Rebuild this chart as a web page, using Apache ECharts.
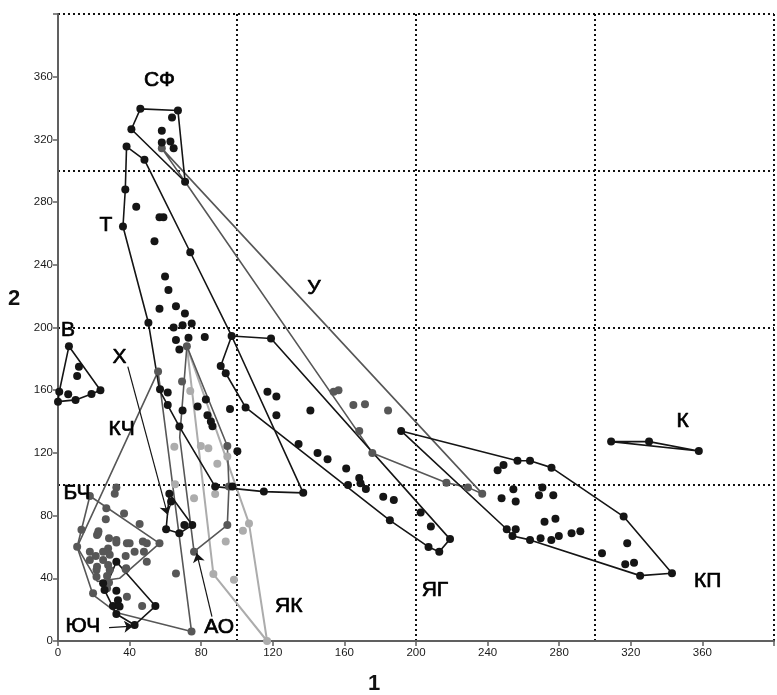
<!DOCTYPE html>
<html><head><meta charset="utf-8">
<script src="https://cdn.jsdelivr.net/npm/echarts@6/dist/echarts.min.js"></script>
<style>html,body{margin:0;padding:0;background:#fff}#c{width:777px;height:695px}</style>
</head><body><div id="c"></div>
<script>
// ---- axis settings ----
const axisMin = 0, axisMax = 400, tickStep = 40, gridStep = 100;
const hiddenTickLabels = [400];

// ---- hull polygons (data units: [axis 1, axis 2]) ----
const hullSF = [[41,326.5],[46,339.5],[67,338.4],[71,293],[41,326.5]];
const hullT = [[38.3,315.4],[48.3,307],[73.9,248],[97,194.6],[137,94.5],[115,95.3],[87.8,98.5],[67.8,136.8],[56.7,160],[50.5,203],[36.3,264.4],[37.6,288],[38.3,315.4]];
const hullYaG = [[97,194.6],[119,193],[219,65],[213,57],[207,60],[185.4,77],[104.8,149],[93.7,170.8],[90.9,175.5],[97,194.6]];
const hullU = [[58,314.3],[237,94],[229,98],[217,101],[175.6,120],[71,293],[58,314.3]];
const hullV = [[6.1,188],[23.7,160],[18.7,157.6],[9.8,153.8],[0,152.7],[0.7,159],[6.1,188]];
const hullKh = [[62.2,94],[75,74],[67.8,68.7],[60.4,71.3],[62.2,94]];
const hullYuCh = [[32.6,50.6],[54.4,22.3],[42.8,10.2],[32.6,17.2],[26,32.5],[32.6,50.6]];
const hullKCh = [[55.9,172],[74.6,6],[33,18],[19.6,29.4],[10.7,60],[55.9,172]];
const hullBCh = [[17.8,92.5],[56.7,62.3],[34.4,40],[22,38],[10.7,60],[17.8,92.5]];
const hullAO = [[72,188],[94.6,124.4],[95.5,98.5],[94.6,74],[76,57],[68,130],[72,188]];
const hullYaK = [[72,188],[86.8,42.7],[116.8,0],[106.7,75],[72,188]];
const hullKP = [[191.7,134],[256.7,115],[263.7,115],[275.7,110.6],[316,79.4],[343,43.2],[325.2,41.7],[263.7,64.5],[253.9,67],[250.7,71.3],[191.7,134]];
const hullK = [[309,127.2],[330.2,127.2],[358,121.2],[309,127.2]];

// ---- points ----
const blackPoints = [
 [46,339.5],[67,338.4],[71,293],[41,326.5],[63.7,334],[58,325.5],[58,318],[62.8,318.7],[64.6,314.3],
 [38.3,315.4],[48.3,307],[37.6,288],[36.3,264.4],[43.7,277],[56.7,270.4],[58.9,270.4],[53.9,255],[73.9,248],
 [59.8,232.6],[61.7,224],[56.7,212],[65.9,213.5],[70.9,209],[50.5,203],[64.6,200],[69.6,201.5],[74.7,202.5],
 [65.9,192],[72.9,193.5],[67.8,186],[82,194],[97,194.6],
 [57,160.6],[61.3,158.5],[61.3,150.6],[69.6,147],[78,149.6],[82.6,154],[83.5,144],[85.4,140],[86.3,137],
 [67.8,136.8],[96.1,148],[90.9,175.5],[93.7,170.8],[104.8,149],[100.2,121],[87.8,98.5],[97.4,98.5],[115,95.3],[137,94.5],
 [117,159],[122,156],[122,144],[141,147],[134.4,125.7],[145,120],[150.6,116],[161,110],[162,99.6],[168.3,104],
 [169,100.6],[172,97],[181.7,92],[187.6,90],[185.4,77],[202.6,82],[208.3,73],[219,65],[213,57],[207,60],[119,193],
 [62.2,94],[63.2,89],[60.4,71.3],[67.8,68.7],[70.6,74],[75,74],
 [309,127.2],[330.2,127.2],[358,121.2],
 [6.1,188],[23.7,160],[18.7,157.6],[9.8,153.8],[0,152.7],[0.7,159],[11.7,175],[10.7,169],[5.7,157.4],
 [32.6,50.6],[54.4,22.3],[42.8,10.2],[32.6,17.2],[26,32.5],[25.2,36.8],[32.6,32],[33.5,26],[30.7,22.3],[34.4,22],
 [191.7,134],[256.7,115],[263.7,115],[275.7,110.6],[316,79.4],[343,43.2],[325.2,41.7],[263.7,64.5],[253.9,67],
 [250.7,71.3],[255.7,71.3],[269.6,65.6],[275.6,64.5],[279.8,67],[286.9,68.7],[291.8,70],[303.9,56],[318,62.4],
 [316.9,49],[321.8,50],[245.6,109],[248.9,112.3],[254.4,96.8],[247.8,91],[255.7,89],[270.6,98],[268.7,93],
 [276.7,93],[271.8,76],[277.9,78]
];
const darkGrayPoints = [
 [58,314.3],[154,159],[156.7,160],[165,150.6],[171.5,151],[184.4,147],[168.3,134],[175.6,120],[217,101],[229,98],[237,94],
 [72,188],[69.3,165.5],[94.6,124.4],[95.5,98.5],[94.6,74],[76,57],[74.6,6],[65.9,43],
 [55.9,172],[32.6,98],[31.7,94],[27,84.7],[36.9,81.4],[45.6,74.7],[26.7,77.7],[17.8,92.5],[22.6,70],[21.8,67.6],
 [28.5,65.5],[32.6,62.8],[38.5,62.4],[40,62.3],[47.4,63.4],[49.6,62.3],[56.7,62.3],[42.8,57],[48,57],[37.8,54.2],
 [49.6,50.6],[28,59],[28.9,55],[25.2,57],[17.8,57],[21.1,54.2],[17.8,51.7],[25.2,51.7],[21.8,47.4],[28,48.5],
 [21.5,45.3],[28.9,45.3],[21.5,41],[27.4,41.5],[28.5,37.3],[37.8,45.7],[38.1,46.4],[38.5,28.3],[47,22.3],
 [13.1,71],[10.7,60.2],[19.6,30.4],[27.4,33.6],[22.4,68.7],[32.6,64.5]
];
const lightGrayPoints = [
 [73.9,159.5],[65,124],[79.8,124.4],[84,123],[89,113],[94.6,117.7],[87.8,93.8],[65.4,100],[76,91],
 [93.7,63.4],[103.3,70.4],[106.7,75],[98.3,39],[86.8,42.7],[116.8,0]
];

// ---- arrows [from, to] ----
const arrowKh = [[39,175],[61.3,80.5]];
const arrowYuCh = [[28.5,8.5],[42,9.5]];
const arrowAO = [[86,15.5],[77.5,56]];

// ---- group labels ----
const groupNames = ['СФ','Т','У','В','Х','КЧ','БЧ','ЮЧ','АО','ЯК','ЯГ','КП','К'];
const groupLabelAt = [[56.7,358],[26.7,265],[143,225],[5.6,198],[34.4,181],[35.6,135],[10.6,94.4],[13.9,9.6],[90,9],[128.9,22.3],[210.6,32.5],[363,38],[349,140]];
const axisNameX = '1', axisNameY = '2';

const BLACK = '#151515', DARK = '#575757', LIGHT = '#acacac';
function hull(data, color, w) {
  return {type:'line', data, showSymbol:false, symbol:'none', silent:true, z:2,
    lineStyle:{color, width:w}, itemStyle:{color}};
}
function pts(data, color) {
  return {type:'scatter', data, symbolSize:8, z:3, itemStyle:{color, opacity:1}};
}
function arrow(a) {
  return {type:'lines', coordinateSystem:'cartesian2d', z:4, symbol:['none','arrow'], symbolSize:9,
    lineStyle:{color:BLACK, width:1.2, opacity:1}, data:[{coords:a}]};
}
const fontFam = '"Liberation Sans", Arial, sans-serif';
const chart = echarts.init(document.getElementById('c'));
chart.setOption({
  animation:false,
  backgroundColor:'#fff',
  grid:{left:58, top:14, width:720, height:627, containLabel:false},
  xAxis:[
    {type:'value', min:axisMin, max:axisMax, interval:tickStep,
     axisLine:{show:true, lineStyle:{color:'#606060', width:2}},
     axisTick:{show:true, length:5, lineStyle:{color:'#606060', width:1.5}},
     axisLabel:{color:'#1a1a1a', fontSize:11.5, fontFamily:fontFam, margin:6,
       formatter:v=> hiddenTickLabels.includes(v)?'':String(v)},
     splitLine:{show:false}},
    {type:'value', min:axisMin, max:axisMax, interval:gridStep, position:'bottom',
     axisLine:{show:false}, axisTick:{show:false}, axisLabel:{show:false},
     splitLine:{show:true, lineStyle:{color:'#111', width:2, type:[2,3]}}}
  ],
  yAxis:[
    {type:'value', min:axisMin, max:axisMax, interval:tickStep,
     axisLine:{show:true, lineStyle:{color:'#606060', width:2}},
     axisTick:{show:true, length:5, lineStyle:{color:'#606060', width:1.5}},
     axisLabel:{color:'#1a1a1a', fontSize:11.5, fontFamily:fontFam, margin:5,
       formatter:v=> hiddenTickLabels.includes(v)?'':String(v)},
     splitLine:{show:false}},
    {type:'value', min:axisMin, max:axisMax, interval:gridStep, position:'left',
     axisLine:{show:false}, axisTick:{show:false}, axisLabel:{show:false},
     splitLine:{show:true, lineStyle:{color:'#111', width:2, type:[2,3]}}}
  ],
  graphic:[
    {type:'text', left:368, top:673, style:{text:axisNameX, font:'bold 22px '+fontFam, fill:'#111'}},
    {type:'text', left:8, top:288, style:{text:axisNameY, font:'bold 22px '+fontFam, fill:'#111'}}
  ],
  series:[
    hull(hullYaK, LIGHT, 2),
    hull(hullU, DARK, 1.6), hull(hullKCh, DARK, 1.6), hull(hullBCh, DARK, 1.6), hull(hullAO, DARK, 1.6),
    hull(hullSF, BLACK, 1.6), hull(hullT, BLACK, 1.6), hull(hullYaG, BLACK, 1.6), hull(hullV, BLACK, 1.6),
    hull(hullKh, BLACK, 1.6), hull(hullYuCh, BLACK, 1.6), hull(hullKP, BLACK, 1.6), hull(hullK, BLACK, 1.6),
    pts(lightGrayPoints, LIGHT), pts(darkGrayPoints, DARK), pts(blackPoints, BLACK),
    arrow(arrowKh), arrow(arrowYuCh), arrow(arrowAO),
    {type:'scatter', symbolSize:1, z:5, silent:true,
     itemStyle:{color:'rgba(0,0,0,0)', opacity:1},
     data: groupNames.map((n,i)=>({name:n, value:groupLabelAt[i]})),
     label:{show:true, position:'inside', formatter:p=>p.name, fontSize:21, fontFamily:fontFam,
       color:'#000', opacity:1, textBorderColor:'#000', textBorderWidth:0.7, fontWeight:'normal'}}
  ]
});
</script></body></html>
